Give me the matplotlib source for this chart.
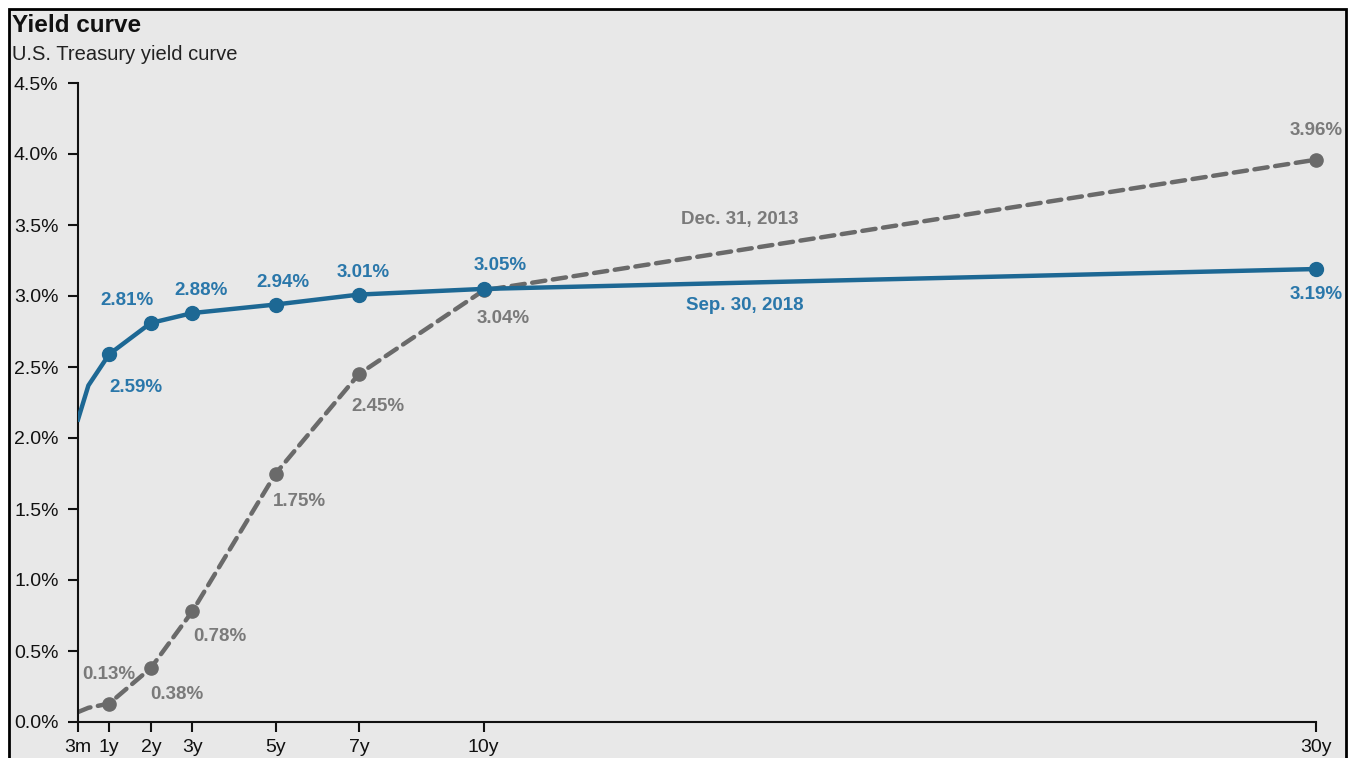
import matplotlib
matplotlib.use('Agg')
import matplotlib.pyplot as plt
from matplotlib.patches import Rectangle

plt.rcParams['font.family'] = ['Liberation Sans', 'DejaVu Sans']

# maturities in years and tick labels
maturities = [0.25, 0.5, 1, 2, 3, 5, 7, 10, 30]
tick_pos = [0.25, 1, 2, 3, 5, 7, 10, 30]
tick_labels = ['3m', '1y', '2y', '3y', '5y', '7y', '10y', '30y']

# yields, %
sep2018 = [2.13, 2.37, 2.59, 2.81, 2.88, 2.94, 3.01, 3.05, 3.19]
dec2013 = [0.07, 0.10, 0.13, 0.38, 0.78, 1.75, 2.45, 3.04, 3.96]

# label offsets in points (dx, dy), one per marked maturity (1y..30y)
sep_offsets = [(19, -24), (-17, 16), (6, 16), (5, 16), (3, 16), (12, 17), (0, -18)]
dec_offsets = [(0, 21), (19, -19), (20, -18), (17, -20), (14, -23), (14, -20), (0, 21)]

blue = '#1d6894'
blue_txt = '#2a77aa'
grey = '#6a6a6a'
grey_txt = '#7a7a7a'
bg = '#e8e8e8'

fig = plt.figure(figsize=(13.54, 7.58), dpi=100)
fig.patch.set_facecolor('white')
fig.patches.append(Rectangle((9 / 1354, -0.02), 1337 / 1354, 1.02 - 9 / 758,
                             transform=fig.transFigure, facecolor=bg,
                             edgecolor='black', linewidth=2, zorder=-10))

ax = fig.add_axes([78 / 1354, 36 / 758, 1238 / 1354, 639 / 758])
ax.set_facecolor('none')

ax.plot(maturities, dec2013, color=grey, lw=3.2, linestyle=(0, (3.0, 1.7)),
        dash_capstyle='round', zorder=2)
ax.plot(maturities[2:], dec2013[2:], 'o', color=grey, ms=9.5, zorder=3, clip_on=False)
ax.plot(maturities, sep2018, color=blue, lw=3.2, solid_joinstyle='round', zorder=4)
ax.plot(maturities[2:], sep2018[2:], 'o', color=blue, ms=10, zorder=5, clip_on=False)

for x, y, (dx, dy) in zip(maturities[2:], sep2018[2:], sep_offsets):
    ax.annotate(f'{y:.2f}%', (x, y), xytext=(dx, dy), textcoords='offset points',
                ha='center', va='center', fontsize=13.5, fontweight='bold',
                color=blue_txt, zorder=6)
for x, y, (dx, dy) in zip(maturities[2:], dec2013[2:], dec_offsets):
    ax.annotate(f'{y:.2f}%', (x, y), xytext=(dx, dy), textcoords='offset points',
                ha='center', va='center', fontsize=13.5, fontweight='bold',
                color=grey_txt, zorder=6)

ax.text(16.15, 3.54, 'Dec. 31, 2013', ha='center', va='center', fontsize=13.5,
        fontweight='bold', color=grey_txt)
ax.text(16.28, 2.93, 'Sep. 30, 2018', ha='center', va='center', fontsize=13.5,
        fontweight='bold', color=blue_txt)

ax.set_xlim(0.25, 30)
ax.set_ylim(0, 4.5)
ax.set_xticks(tick_pos)
ax.set_xticklabels(tick_labels)
yt = [i * 0.5 for i in range(10)]
ax.set_yticks(yt)
ax.set_yticklabels([f'{v:.1f}%' for v in yt])
ax.tick_params(axis='both', labelsize=14, length=7, width=1.5, colors='#111111')
ax.tick_params(axis='y', pad=7)
ax.tick_params(axis='x', pad=5)
for s in ['top', 'right']:
    ax.spines[s].set_visible(False)
for s in ['left', 'bottom']:
    ax.spines[s].set_linewidth(1.5)
    ax.spines[s].set_color('#111111')

fig.text(12 / 1354, 1 - 25 / 758, 'Yield curve', fontsize=17.5, fontweight='bold',
         va='center', ha='left', color='#111111')
fig.text(12 / 1354, 1 - 54 / 758, 'U.S. Treasury yield curve', fontsize=14.5,
         va='center', ha='left', color='#222222')

fig.savefig('out.png', dpi=100, facecolor=fig.get_facecolor())
